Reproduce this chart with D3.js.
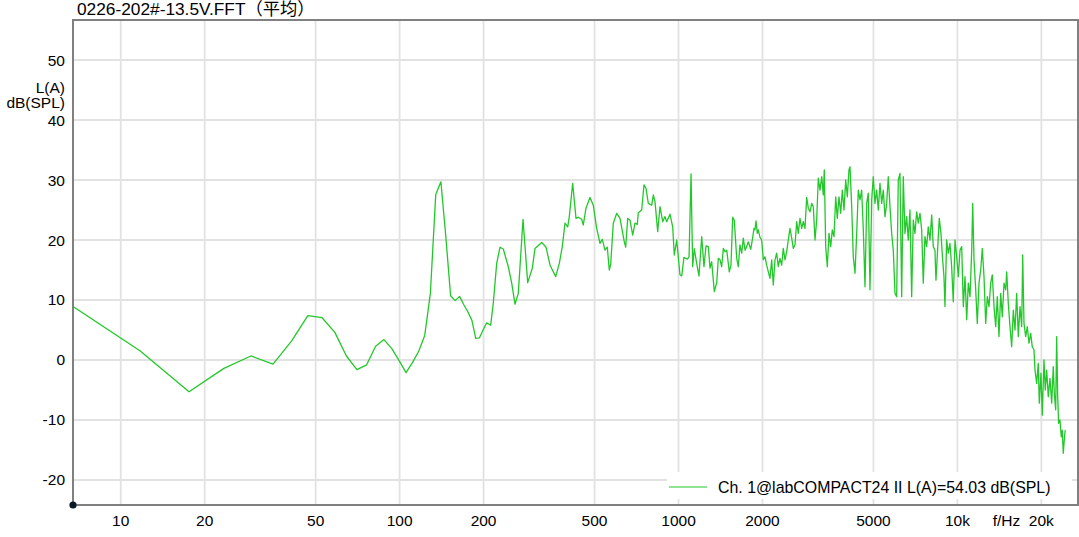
<!DOCTYPE html>
<html><head><meta charset="utf-8">
<script src="https://cdn.jsdelivr.net/npm/d3@7"></script>
<style>
html,body{margin:0;padding:0;background:#fff;}
svg{display:block;}
text{font-family:"Liberation Sans",Arial,"Noto Sans CJK SC",sans-serif;fill:#000;}
</style>
</head><body>
<svg id="c" width="1079" height="537"></svg>
<script>
const chartTitle = "0226-202#-13.5V.FFT（平均）";
const seriesName = "Ch. 1@labCOMPACT24 II L(A)=54.03 dB(SPL)";
const yUnitLabel = ["L(A)", "dB(SPL)"];
const xUnitLabel = "f/Hz";
const xTickValues = [10, 20, 50, 100, 200, 500, 1000, 2000, 5000, 10000, 20000];
const xTickLabels = ["10", "20", "50", "100", "200", "500", "1000", "2000", "5000", "10k", "20k"];
const yTickValues = [-20, -10, 0, 10, 20, 30, 40, 50];

const freqHz = [
  5.86, 11.72, 17.58, 23.44, 29.30, 35.16, 41.02, 46.88, 52.73, 58.59, 64.45, 70.31, 76.17, 82.03, 87.89, 93.75,
  99.61, 105.47, 111.33, 117.19, 123.05, 128.91, 134.77, 140.63, 146.48, 152.34, 158.20, 164.06, 169.92, 175.78,
  181.64, 187.50, 193.36, 199.22,
  205.2, 212.1, 216.7, 222.9, 229.1, 235.4, 245.3, 252.3, 259.3, 266.4, 277.0, 287.9, 299.1, 305.8, 323.3, 335.0,
  346.2, 362.8, 373.8, 383.1, 391.7, 400.6, 405.9, 417.4, 429.0, 437.2, 449.6, 455.6, 465.9, 481.5, 494.8, 508.9,
  523.0, 533.0, 545.0, 555.5, 564.7, 571.3, 583.7, 600.3, 616.9, 639.2, 646.6, 657.4, 670.0, 685.1, 698.2, 711.6,
  717.5, 737.9, 752.1, 764.6, 779.3, 801.5, 812.1, 823.6, 842.1, 858.3, 877.6, 894.4, 907.1, 932.1, 953.1, 965.8,
  985.3,
  1012, 1027, 1046, 1075, 1091, 1109, 1124, 1139, 1162, 1184, 1211, 1234, 1255, 1279, 1297, 1315, 1344, 1371, 1389,
  1409, 1428, 1448, 1468, 1489, 1521, 1542, 1564, 1585, 1617, 1638, 1661, 1685, 1707, 1732, 1756, 1779, 1815, 1839,
  1865, 1880, 1896, 1916, 1932, 1960, 1987, 2014, 2042, 2071, 2099, 2128, 2158, 2187, 2218, 2249, 2279, 2311, 2344,
  2375, 2409, 2443, 2475, 2510, 2546, 2580, 2616, 2653, 2688, 2726, 2765, 2802, 2841, 2881, 2920, 2961, 3003, 3043,
  3086, 3129, 3171, 3216, 3262, 3305, 3332, 3371, 3416, 3464, 3513, 3560, 3610, 3661, 3710, 3762, 3815, 3866, 3921,
  3976, 4029, 4086, 4120, 4178, 4233, 4293, 4354, 4412, 4474, 4537, 4598, 4663, 4728, 4791, 4859, 4928, 4993, 5064,
  5136, 5204, 5277, 5352, 5423, 5500, 5577, 5651, 5731, 5812, 5890, 5973, 6057, 6137, 6224, 6312, 6396, 6486, 6578,
  6665, 6759, 6855, 6946, 7044, 7144, 7239, 7341, 7445, 7544, 7650, 7758, 7861, 7972,
  8088, 8192, 8308, 8377, 8467, 8608, 8730, 8853, 8949, 9023, 9150, 9272, 9403, 9536, 9663, 9804, 9942, 10075, 10217,
  10361, 10499, 10647, 10798, 10941, 11096, 11253, 11346, 11469, 11630, 11785, 11952, 12120, 12282, 12455, 12631,
  12799, 12980, 13163, 13338, 13527, 13718, 13900, 14096, 14296, 14486, 14690, 14898, 15022, 15221, 15436, 15654,
  15862, 16086, 16314, 16531, 16764, 17001, 17142, 17327, 17572, 17806, 18057, 18312, 18556, 18818,
  18974, 19242, 19497, 19659, 19936, 20152, 20437, 20657, 20897, 21175, 21474, 21777, 22066, 22249, 22507, 22694,
  22882, 23071, 23320, 23572, 23767, 23964, 24243, 24363
];
const levelDb = [
  10.8, 1.55, -5.3, -1.4, 0.67, -0.7, 3.2, 7.4, 7.05, 4.6, 0.67, -1.6, -0.8, 2.3, 3.4, 1.9,
  -0.1, -2.1, -0.4, 1.5, 4.1, 11.1, 27.6, 29.7, 20.5, 10.7, 9.9, 10.6, 9.2, 8.0,
  6.6, 3.6, 3.7, 5.0,
  6.2, 5.8, 9.45, 16.1, 18.8, 18.5, 15.55, 12.8, 9.3, 11.1, 23.45, 12.9, 15.3, 18.6, 19.6, 18.8,
  15.8, 13.9, 16.1, 18.9, 22.8, 22.2, 23.9, 29.45, 23.6, 23.8, 23.45, 22.5, 25.3, 27.1, 25.8, 21.95,
  19.45, 20.1, 18.3, 18.8, 15.0, 16.0, 22.8, 24.45, 23.6, 19.7, 18.8, 23.6, 23.3, 20.8, 22.8, 22.6,
  24.55, 25.0, 29.2, 28.6, 26.1, 25.8, 27.5, 26.4, 21.4, 25.55, 23.05, 23.9, 23.05, 24.3, 22.2, 17.5,
  20.0,
  14.2, 14.0, 17.1, 16.8, 17.2, 31.0, 15.55, 18.55, 16.1, 14.0, 20.55, 15.55, 19.0, 18.9, 15.3, 16.4, 11.4, 12.9, 16.95,
  16.7, 15.55, 18.6, 18.05, 18.3, 14.7, 15.8, 23.8, 23.3, 16.95, 15.55, 19.2, 17.8, 20.3, 18.3, 18.9, 19.7, 18.45, 20.0,
  21.95, 21.7, 23.2, 21.1, 21.7, 20.45, 20.0, 16.7, 17.2, 15.8, 14.7, 13.6, 16.7, 12.5, 16.7, 17.8, 15.55, 16.95, 15.8,
  18.6, 16.7, 18.05, 20.0, 21.95, 20.3, 18.6, 19.2, 23.05, 21.1, 23.6, 21.95, 23.05, 21.95, 27.1, 25.3, 24.7, 26.1, 25.55,
  20.0, 23.3, 30.3, 28.3, 30.55, 27.5, 31.7, 18.9, 15.55, 21.1, 18.9, 21.7, 20.55, 27.2, 23.6, 27.2, 24.45, 28.3, 25.0,
  30.0, 27.2, 31.7, 32.2, 25.55, 17.2, 14.45, 21.1, 28.3, 26.7, 28.3, 21.7, 12.2, 26.1, 27.8, 11.7, 26.7, 30.55, 26.1,
  28.3, 25.0, 29.45, 26.1, 28.3, 23.9, 26.1, 30.55, 25.55, 21.1, 18.3, 11.1, 10.55, 30.0, 31.1, 10.55, 30.55, 21.1, 23.9,
  20.0, 25.0, 10.55, 23.3, 21.1, 24.7, 22.8, 24.45, 21.7, 12.8, 20.55, 18.9, 22.2, 20.0,
  24.2, 18.9, 18.3, 13.3, 17.2, 23.6, 21.1, 16.7, 13.9, 8.9, 20.0, 17.8, 19.45, 15.55, 9.7, 20.0, 17.2, 13.9, 18.3,
  18.9, 8.9, 13.9, 6.7, 12.8, 10.55, 18.3, 26.1, 16.7, 11.7, 6.1, 12.8, 15.0, 18.6, 13.9, 6.1,
  10.55, 8.9, 12.8, 14.2, 8.9, 5.55, 10.55, 3.9, 11.1, 7.2, 12.8, 11.7, 14.7, 9.45, 5.55, 2.2,
  8.3, 5.0, 11.1, 3.9, 8.9, 5.55, 17.5, 6.1, 3.9, 5.55, 2.8, 4.45, 2.2, 1.7,
  -1.7, -3.9, -0.55, -7.2, -2.2, -9.2, 0.0, -5.0, -1.7, -6.1, -3.05, -7.2, -1.1, -5.55, -8.3, 3.9,
  -6.1, -10.55, -10.0, -12.8, -11.7, -15.55, -12.5, -11.7
];

const plot = {left: 73, top: 20, right: 1078, bottom: 505};
const svg = d3.select("#c");

const x = d3.scaleLog().domain([6.7445, 27063]).range([plot.left, plot.right]);
const y = d3.scaleLinear().domain([-24.167, 56.667]).range([plot.bottom, plot.top]);

// grid
const grid = svg.append("g");
grid.selectAll("line.v").data(xTickValues).join("line")
  .attr("x1", d => x(d)).attr("x2", d => x(d))
  .attr("y1", plot.top).attr("y2", plot.bottom)
  .attr("stroke", "#e2e2e2").attr("stroke-width", 1.8);
grid.selectAll("line.h").data(yTickValues).join("line")
  .attr("x1", plot.left).attr("x2", plot.right)
  .attr("y1", d => y(d)).attr("y2", d => y(d))
  .attr("stroke", "#e2e2e2").attr("stroke-width", 1.8);

// clip
svg.append("defs").append("clipPath").attr("id", "clip")
  .append("rect").attr("x", plot.left).attr("y", plot.top)
  .attr("width", plot.right - plot.left).attr("height", plot.bottom - plot.top);

const pts = freqHz.map((f, i) => [f, levelDb[i]]);
const line = d3.line().x(d => x(d[0])).y(d => y(d[1]));
svg.append("path").datum(pts)
  .attr("clip-path", "url(#clip)")
  .attr("d", line)
  .attr("fill", "none")
  .attr("stroke", "#22c82a")
  .attr("stroke-width", 1.3)
  .attr("stroke-linejoin", "round");

// legend
const lg = svg.append("g");
lg.append("rect").attr("x", 667).attr("y", 472).attr("width", 405).attr("height", 27).attr("fill", "#fff");
lg.append("line").attr("x1", 669).attr("x2", 707).attr("y1", 487).attr("y2", 487)
  .attr("stroke", "#22c82a").attr("stroke-width", 1.2);
lg.append("text").attr("x", 718).attr("y", 493).attr("font-size", 15.9).text(seriesName);

// frame
svg.append("rect").attr("x", plot.left).attr("y", plot.top)
  .attr("width", plot.right - plot.left).attr("height", plot.bottom - plot.top)
  .attr("fill", "none").attr("stroke", "#808080").attr("stroke-width", 2);
svg.append("circle").attr("cx", plot.left).attr("cy", plot.bottom).attr("r", 3.6).attr("fill", "#0b1626");

// x tick labels
svg.append("g").selectAll("text").data(xTickValues).join("text")
  .attr("x", d => x(d)).attr("y", 526).attr("text-anchor", "middle")
  .attr("font-size", 15.5).text((d, i) => xTickLabels[i]);
svg.append("text").attr("x", x(15000)).attr("y", 526).attr("text-anchor", "middle")
  .attr("font-size", 15.5).text(xUnitLabel);

// y tick labels
svg.append("g").selectAll("text").data(yTickValues).join("text")
  .attr("x", 65).attr("y", d => y(d) + 5.5).attr("text-anchor", "end")
  .attr("font-size", 15.5).text(d => d);
svg.append("g").selectAll("text").data(yUnitLabel).join("text")
  .attr("x", 65).attr("y", (d, i) => 92.5 + i * 15).attr("text-anchor", "end")
  .attr("font-size", 15.5).text(d => d);

// title
svg.append("text").attr("x", 77).attr("y", 15).attr("font-size", 17.3).text(chartTitle);
</script>
</body></html>
